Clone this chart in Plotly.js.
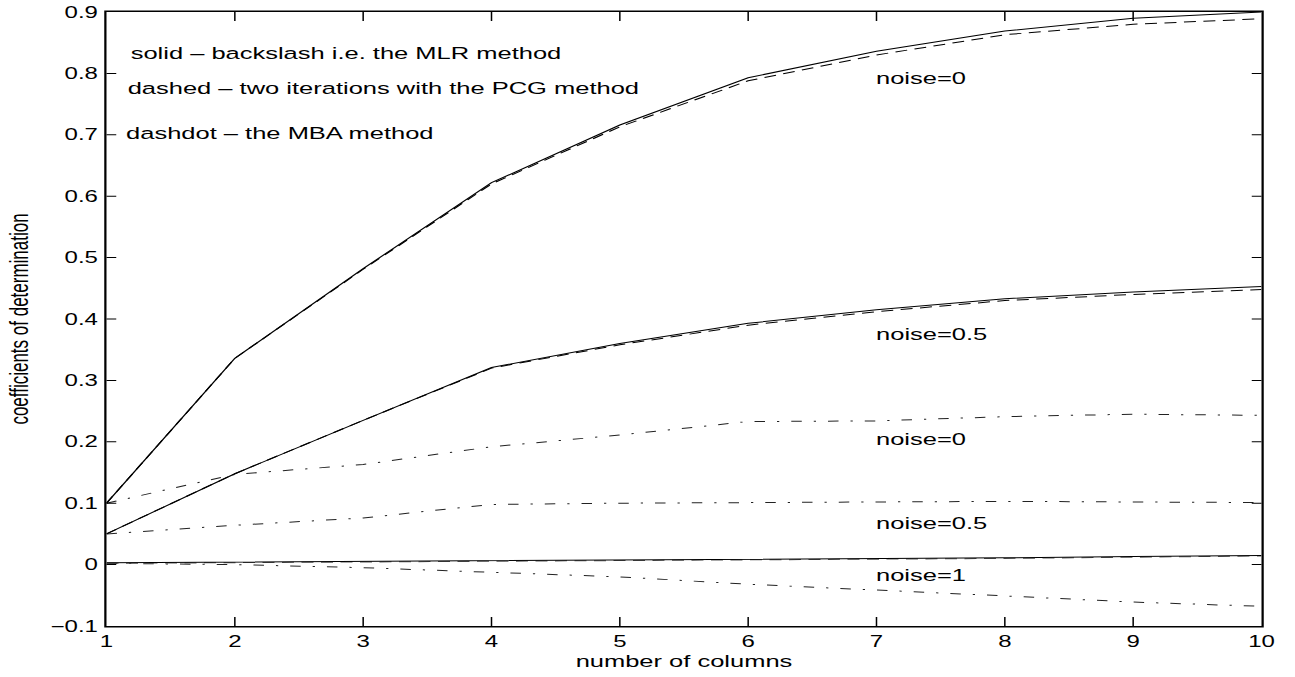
<!DOCTYPE html>
<html>
<head>
<meta charset="utf-8">
<script src="https://cdn.plot.ly/plotly-3.0.1.min.js"></script>
<style>
html,body{margin:0;padding:0;background:#fff;overflow:hidden;}
#wrap{width:1295px;height:677px;overflow:hidden;}
#plot{width:864px;height:677px;transform:scale(1.5,1);transform-origin:0 0;}
#plot path, #plot .crisp{shape-rendering:geometricPrecision !important;}
</style>
</head>
<body>
<div id="wrap"><div id="plot"></div></div>
<script>
// number of columns
const cols = [1, 2, 3, 4, 5, 6, 7, 8, 9, 10];
// solid: backslash (MLR)
const mlrNoise0   = [0.100, 0.336, 0.482, 0.622, 0.716, 0.793, 0.836, 0.869, 0.890, 0.900];
const mlrNoise05  = [0.050, 0.148, 0.235, 0.321, 0.360, 0.393, 0.415, 0.433, 0.444, 0.453];
const mlrNoise1   = [0.003, 0.004, 0.005, 0.006, 0.007, 0.008, 0.009, 0.011, 0.013, 0.015];
// dashed: two PCG iterations
const pcgNoise0   = [0.100, 0.336, 0.481, 0.620, 0.713, 0.788, 0.830, 0.863, 0.880, 0.889];
const pcgNoise05  = [0.050, 0.148, 0.235, 0.320, 0.358, 0.390, 0.412, 0.430, 0.440, 0.448];
const pcgNoise1   = [0.002, 0.003, 0.004, 0.005, 0.006, 0.007, 0.008, 0.010, 0.012, 0.014];
// dashdot: MBA
const mbaNoise0   = [0.100, 0.147, 0.163, 0.192, 0.211, 0.233, 0.234, 0.241, 0.245, 0.243];
const mbaNoise05  = [0.050, 0.064, 0.076, 0.098, 0.100, 0.101, 0.102, 0.103, 0.102, 0.101];
const mbaNoise1   = [0.002, 0.000, -0.005, -0.012, -0.020, -0.032, -0.041, -0.051, -0.061, -0.068];

// y axis ticks: -0.1 to 0.9 step 0.1
const yTicks = [-0.1, 0, 0.1, 0.2, 0.3, 0.4, 0.5, 0.6, 0.7, 0.8, 0.9];

const legendLines = [
  {text: 'solid \u2013 backslash i.e. the MLR method', x: 1.16, y: 0.832},
  {text: 'dashed \u2013 two iterations with the PCG method', x: 1.14, y: 0.775},
  {text: 'dashdot \u2013 the MBA method', x: 1.13, y: 0.702}
];
const noiseLabels = [
  {text: 'noise=0', x: 6.97, y: 0.792},
  {text: 'noise=0.5', x: 6.97, y: 0.375},
  {text: 'noise=0', x: 6.97, y: 0.204},
  {text: 'noise=0.5', x: 6.97, y: 0.0675},
  {text: 'noise=1', x: 6.97, y: -0.017}
];

const FONT = '"Liberation Sans", Arial, Helvetica, sans-serif';
const DASHED = '8px,5px';
const DASHDOT = '7px,8px,1.5px,8px';

function tr(y, dash, color) {
  return {x: cols, y: y, type: 'scatter', mode: 'lines',
          line: {color: color || '#000', width: 1, dash: dash},
          showlegend: false, hoverinfo: 'skip'};
}

const data = [
  tr(mbaNoise0, DASHDOT, '#222'),
  tr(mbaNoise05, DASHDOT, '#222'),
  tr(mbaNoise1, DASHDOT, '#222'),
  tr(pcgNoise0, DASHED),
  tr(pcgNoise05, DASHED),
  tr(pcgNoise1, DASHED, '#555'),
  tr(mlrNoise0, 'solid'),
  tr(mlrNoise05, 'solid'),
  tr(mlrNoise1, 'solid')
];

const annotations = [];
legendLines.concat(noiseLabels).forEach(a => annotations.push({
  x: a.x, y: a.y, xref: 'x', yref: 'y', text: a.text, showarrow: false,
  xanchor: 'left', yanchor: 'middle', font: {family: FONT, size: 17, color: '#000'}
}));

const layout = {
  width: 864, height: 677,
  margin: {l: 70.67, r: 23.33, t: 12, b: 51, pad: 0},
  paper_bgcolor: '#fff', plot_bgcolor: '#fff',
  font: {family: FONT, size: 16, color: '#000'},
  xaxis: {
    range: [cols[0], cols[cols.length - 1]],
    tickmode: 'linear', tick0: cols[0], dtick: cols[1] - cols[0],
    ticks: 'inside', ticklen: 9, tickwidth: 1, tickcolor: '#000',
    showline: true, linecolor: '#000', linewidth: 1.5, mirror: 'ticks',
    showgrid: false, zeroline: false, automargin: false,
    ticklabelstandoff: 0,
    tickfont: {family: FONT, size: 16, color: '#000'},
    title: {text: 'number of columns', font: {family: FONT, size: 17, color: '#000'}, standoff: 6}
  },
  yaxis: {
    range: [yTicks[0], yTicks[yTicks.length - 1]],
    tickmode: 'linear', tick0: yTicks[0], dtick: 0.1, tickformat: '.1~f',
    ticks: 'inside', ticklen: 6.5, tickwidth: 1, tickcolor: '#000',
    showline: true, linecolor: '#000', linewidth: 1.5, mirror: 'ticks',
    showgrid: false, zeroline: false, automargin: false,
    ticklabelstandoff: 1,
    tickfont: {family: FONT, size: 16, color: '#000'},
    title: {text: 'coefficients of determination', font: {family: FONT, size: 17, color: '#000'}, standoff: 10}
  },
  annotations: annotations,
  showlegend: false,
  hovermode: false
};

Plotly.newPlot('plot', data, layout, {staticPlot: true, displayModeBar: false});
</script>
</body>
</html>
